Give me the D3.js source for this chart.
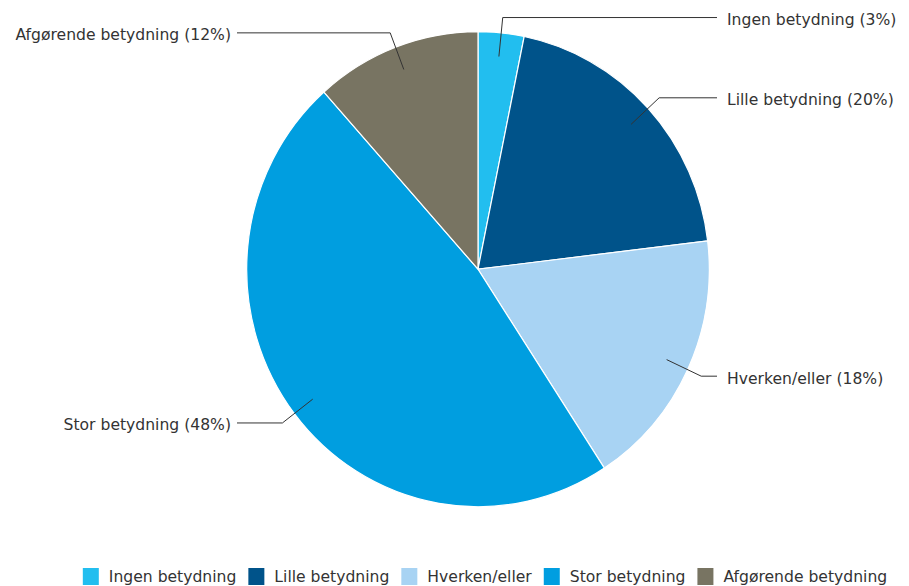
<!DOCTYPE html>
<html>
<head>
<meta charset="utf-8">
<script src="https://cdn.jsdelivr.net/npm/d3@7"></script>
<style>
  html, body { margin: 0; padding: 0; background: #fff; }
  svg { display: block; }
  text { font-family: "DejaVu Sans", Verdana, sans-serif; fill: #333; }
</style>
</head>
<body>
<svg id="chart" width="909" height="586"></svg>
<script>
const categories = ["Ingen betydning", "Lille betydning", "Hverken/eller", "Stor betydning", "Afgørende betydning"];
const values = [3.2, 19.9, 17.7, 47.6, 11.6];
const labels = ["3%", "20%", "18%", "48%", "12%"];
const colors = ["#22BEEF", "#00538A", "#A8D3F3", "#009EE0", "#787462"];

const W = 909, H = 586;
const cx = 478, cy = 269.2, rx = 231.3, ry = 237.5;
const fontSize = 15.6;

const svg = d3.select("#chart");

const pie = d3.pie().sort(null).value(d => d);
const arcs = pie(values);
const arc = d3.arc().innerRadius(0).outerRadius(ry);

const g = svg.append("g").attr("transform", `translate(${cx},${cy}) scale(${rx / ry},1)`);
g.selectAll("path").data(arcs).enter().append("path")
  .attr("d", arc)
  .attr("fill", (d, i) => colors[i])
  .attr("stroke", "#fff")
  .attr("stroke-width", 1.2)
  .attr("vector-effect", "non-scaling-stroke");

// leader lines & labels
const lab = svg.append("g");
const pt = (a, f) => [cx + Math.sin(a) * rx * f, cy - Math.cos(a) * ry * f];
arcs.forEach((d, i) => {
  const a = (d.startAngle + d.endAngle) / 2;
  const right = Math.sin(a) >= 0;
  const p0 = pt(a, 0.9);
  const p1 = pt(a, 1.065);
  const xEnd = right ? 717 : 237;
  lab.append("polyline")
    .attr("points", [p0, p1, [xEnd, p1[1]]].map(p => p.join(",")).join(" "))
    .attr("fill", "none")
    .attr("stroke", "#333")
    .attr("stroke-width", 1);
  lab.append("text")
    .attr("x", right ? xEnd + 10 : xEnd - 6)
    .attr("y", p1[1] + 2)
    .attr("dy", "0.35em")
    .attr("text-anchor", right ? "start" : "end")
    .style("font-size", fontSize + "px")
    .text(`${categories[i]} (${labels[i]})`);
});

// legend
const leg = svg.append("g");
const sw = 16, gapSwText = 10, gapItem = 12;
const items = categories.map((c, i) => {
  const it = leg.append("g");
  it.append("rect").attr("width", sw).attr("height", 17).attr("fill", colors[i]);
  const t = it.append("text").attr("x", sw + gapSwText).attr("y", 9).attr("dy", "0.35em")
    .style("font-size", fontSize + "px").text(c);
  return { g: it, w: sw + gapSwText + t.node().getComputedTextLength() };
});
const total = d3.sum(items, d => d.w) + gapItem * (items.length - 1);
let x = 485 - total / 2;
items.forEach(it => {
  it.g.attr("transform", `translate(${x},568)`);
  x += it.w + gapItem;
});
</script>
</body>
</html>
